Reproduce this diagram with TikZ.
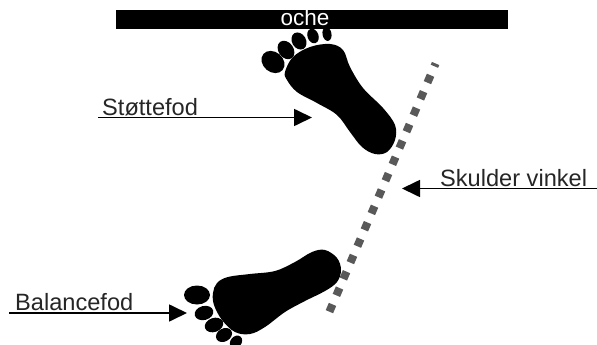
\documentclass[tikz,border=0pt]{standalone}
\usepackage{fontspec}
\setmainfont{Liberation Sans}
\usetikzlibrary{arrows.meta}
\tikzset{
 x=1pt,y=-1pt,
 lbl/.style={font=\fontsize{23.6}{24}\selectfont,inner sep=0pt,anchor=base west,text=black!85},
 arr/.style={draw=black,line width=1.7pt,-{Triangle[length=18pt,width=17pt]}},
 ink/.style={fill=black,draw=none},
}
\begin{document}
\begin{tikzpicture}
\useasboundingbox (0,0) rectangle (597,345);
\fill[white] (0,0) rectangle (597,345);
\node[fill=black,minimum width=392pt,minimum height=19pt,inner sep=0pt,anchor=north west] (oche) at (116,10) {};
\node[text=white,font=\fontsize{22.5}{23}\selectfont,inner sep=0pt,anchor=base] (ochet) at (305,26) {oche};
% shoulder line
\coordinate (sa) at (435.6,63.5);
\coordinate (sb) at (329.4,311.7);
\draw[draw=black!65,line width=8pt,dash pattern=on 8pt off 9.8pt,dash phase=5pt] (sa) -- (sb);
% top foot
\fill[ink] plot[smooth cycle,tension=0.6] coordinates {(285,72)(293,57)(310,47)(330,44)(343,50)(350,67)(363,88)(383,108)(395,125)(395,140)(387,152)(375,154)(362,147)(350,132)(337,115)(317,103)(297,92)(287,80)};
\fill[ink,rotate around={-40:(273,62)}] (273,62) ellipse [x radius=12.5,y radius=10];
\fill[ink,rotate around={-55:(286,50)}] (286,50) ellipse [x radius=10,y radius=7.5];
\fill[ink,rotate around={-60:(299,41)}] (299,41) ellipse [x radius=9,y radius=7];
\fill[ink,rotate around={-70:(313,36)}] (313,36) ellipse [x radius=7.5,y radius=5.5];
\fill[ink,rotate around={-80:(327,34)}] (327,34) ellipse [x radius=7,y radius=4.5];
% bottom foot
\fill[ink] plot[smooth cycle,tension=0.6] coordinates {(213,293)(217,283)(228,277)(250,274)(275,271)(295,262)(312,252)(325,250)(337,258)(341,270)(337,282)(325,291)(305,301)(285,312)(265,327)(250,334)(235,332)(222,320)(214,305)};
\fill[ink] (197,295) ellipse [x radius=13,y radius=9.5];
\fill[ink,rotate around={15:(204,313)}] (204,313) ellipse [x radius=9.5,y radius=7];
\fill[ink,rotate around={20:(214,325)}] (214,325) ellipse [x radius=9.5,y radius=7];
\fill[ink,rotate around={30:(224,335)}] (224,335) ellipse [x radius=8.5,y radius=6.5];
\fill[ink,rotate around={50:(236,342)}] (236,342) ellipse [x radius=7,y radius=5.5];
% labels
\node[lbl] (st) at (102,115) {Støttefod};
\node[lbl] (sk) at (440,186) {Skulder vinkel};
\node[lbl] (ba) at (15,310) {Balancefod};
\coordinate (sts) at (98,117.5);
\coordinate (ste) at (312,117.5);
\coordinate (sks) at (597,188.5);
\coordinate (ske) at (402,188.5);
\coordinate (bas) at (9,313);
\coordinate (bae) at (187,313);
\draw[arr] (sts) -- (ste);
\draw[arr] (sks) -- (ske);
\draw[arr] (bas) -- (bae);
\end{tikzpicture}
\end{document}
